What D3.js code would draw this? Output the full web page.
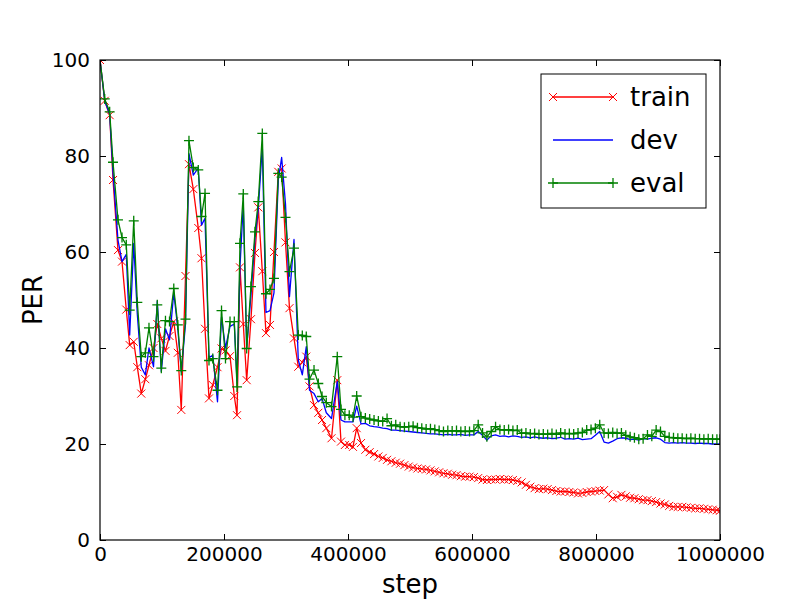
<!DOCTYPE html>
<html><head><meta charset="utf-8">
<script src="https://cdn.jsdelivr.net/npm/d3@7"></script>
<style>body{margin:0;background:#fff}</style>
</head><body><svg id="c" width="800" height="600"></svg>
<script>
// training step, in thousands
const stepK = [0,7.6,15.6,21,29,35.5,42.4,47.9,54.4,60.2,66.6,73.1,79,86.3,92.4,98.9,105.6,112.1,119,125.5,
131.1,137.9,143.5,150.5,158.5,163.7,169.4,175.8,181.9,189.5,196,202.4,209.7,216.6,221,225.8,231.1,236.6,243.5,250,
255.3,261.8,267.7,274.2,280.6,287.6,293,299.2,305.6,312.9,319.8,326.3,332.7,337.9,345.2,352.1,358.1,365,373.4,382.7,
388.7,395,402,408,
414,421,428,435,442,449,456,463,470,477,484,491,498,505,512,519,526,533,540,547,554,561,568,575,582,589,596,603,610,617,
624,631,638,645,652,659,666,673,680,687,694,701,708,715,722,729,736,743,750,757,764,771,778,785,792,799,806,813,820,827,
834,841,848,855,862,869,876,883,890,897,904,911,918,925,932,939,946,953,960,967,974,981,988,995,1000];

const train = [100,91.5,88.5,75,60.4,58,48,40.6,41.3,36,30.5,33.5,36.4,40,45,42,39.4,42.5,45.5,39,
27.1,55,78.3,73.1,65,58.7,44,29.5,32.3,36,39.9,39.5,38.3,30,26,56.8,45,33.3,46,59.8,
69.3,56,43.1,44.8,60,76.7,77.4,62,48.3,42,36.1,37,38.2,32,28.1,26.5,25,23.3,21.2,33.3,
20.5,19.8,19.8,19.4,
23.3,20.2,18.8,18.3,17.9,17.4,17.1,16.7,16.4,16.1,15.9,15.6,15.3,15.1,14.9,14.8,14.7,14.5,14.3,14.1,
13.9,13.8,13.6,13.5,13.3,13.2,13.2,13.1,12.9,12.6,12.5,12.6,12.6,12.7,12.6,12.6,12.5,12.3,12,11.5,
11.1,10.8,10.6,10.7,10.6,10.4,10.2,10.1,10.1,10,9.9,9.7,9.8,10,10.1,10.2,10.3,10.4,9.5,8.7,
9,9.4,9.1,8.8,8.7,8.5,8.3,8.3,8.1,7.9,7.6,7.4,7.1,6.9,6.9,6.9,6.8,6.7,6.6,6.6,
6.5,6.4,6.3,6.2,6.1];

const dev = [100,91.5,88.7,76.5,62.5,58,59.5,42.7,61.8,47,36,34.4,40,36.1,49.8,35.1,44,41.7,51.5,44,
35,45,80.5,76,77.5,65.6,67,38,38.5,28.8,46.5,40,44.5,45,33,57,70,40,51,63,
69,82,47.4,47.8,51.5,75,79.7,70,50.7,62.6,37.5,34.4,40.3,31.2,30.5,28.8,29.5,26.5,25.3,33,
25,24.6,24.6,24.6,
27.9,24.2,24.3,23.8,23.6,23.5,23.3,23.2,22.9,22.9,22.8,22.7,22.6,22.5,22.4,22.3,22.2,22.1,22.1,22,
21.9,22,21.9,21.9,22,21.8,21.9,21.9,22.6,21.8,20.8,21.7,21.9,21.6,21.7,21.5,21.7,21.6,21.4,21.5,
21.3,21.5,21.3,21.2,21.3,21.1,21.2,21.4,21,21.1,21,21.2,20.9,21,21.1,21.8,22.6,20.4,20.2,20.6,
21.1,21.3,21.2,20.9,21,20.8,21.1,21,21.2,21.3,21,20.3,20.2,20.3,20.2,20.3,20.2,20.2,20.1,20.2,
20.1,20.1,20,20,20];

const evalSet = [100,91.9,89.2,78.7,66.7,63,61.5,47.9,66.5,49.5,38.2,39,44.2,38.2,49,35.8,45.7,45.5,52.4,44.8,
35.3,46,83.2,77.6,77.1,67.4,72.2,37.4,37.8,31.2,47.8,37.8,45.5,45.5,31.9,61.8,72.1,39.9,52.8,64.2,
70.5,84.7,51.3,52.2,54.5,76.4,75.6,67.2,55.9,60.8,42.7,42.6,42.4,33.5,35.4,32.6,29.9,28.6,27.8,38.2,
27.2,26,26,25.6,
30,25.7,25.4,25.2,25,24.8,24.7,25.3,23.8,24,23.6,23.5,23.6,23.7,23.4,23.3,23.1,23.2,23,22.8,
22.6,22.8,22.7,22.8,22.6,22.7,22.6,22.8,24,22.3,21.5,22.6,23.6,23,22.9,23,22.8,22.9,22.2,22.3,
22.1,22.2,22,22.1,22,22.2,22,22.3,22.1,22.2,22.1,22.3,22.4,22.9,23,23.3,24,22.3,22.2,22.4,
22.2,22.3,21.8,21.5,21.3,21,21.1,21.9,21.6,22.9,22.6,21.6,21.4,21.3,21.2,21.2,21.1,21.2,21.1,21.1,
21,21.1,21,21,21];

const xTicks = [0,200000,400000,600000,800000,1000000];
const yTicks = [0,20,40,60,80,100];
const seriesNames = ["train","dev","eval"];
const seriesColors = ["#ff0000","#0000ff","#008000"];
const seriesMarkers = ["x","none","+"];
const seriesValues = [train, dev, evalSet];

(function(){
const W = 800, H = 600;
const m = {left:100, right:80, top:60, bottom:60};
const svg = d3.select("#c");
const font = "DejaVu Sans, sans-serif";

const x = d3.scaleLinear().domain([0,1000000]).range([m.left, W-m.right]);
const y = d3.scaleLinear().domain([0,100]).range([H-m.bottom, m.top]);

svg.append("defs").append("clipPath").attr("id","clip")
  .append("rect").attr("x",m.left).attr("y",m.top)
  .attr("width",W-m.left-m.right).attr("height",H-m.top-m.bottom);

const plot = svg.append("g").attr("clip-path","url(#clip)");

const line = d3.line().x((d,i)=>x(stepK[i]*1000)).y(d=>y(d));

function drawMarker(g, type, cx, cy, color){
  const s = 4;
  if(type==="x"){
    g.append("path").attr("d",`M${cx-s},${cy-s}L${cx+s},${cy+s}M${cx-s},${cy+s}L${cx+s},${cy-s}`)
      .attr("stroke",color).attr("stroke-width",1).attr("fill","none");
  } else if(type==="+"){
    const t = 5;
    g.append("path").attr("d",`M${cx-t},${cy}L${cx+t},${cy}M${cx},${cy-t}L${cx},${cy+t}`)
      .attr("stroke",color).attr("stroke-width",1.3).attr("fill","none");
  }
}

seriesValues.forEach((vals, si)=>{
  const g = plot.append("g");
  g.append("path").datum(vals).attr("d",line)
    .attr("fill","none").attr("stroke",seriesColors[si]).attr("stroke-width",1.3)
    .attr("stroke-linejoin","round");
  if(seriesMarkers[si]!=="none"){
    vals.forEach((v,i)=>drawMarker(g, seriesMarkers[si], x(stepK[i]*1000), y(v), seriesColors[si]));
  }
});

const fmt = d3.format("d");
const ax = svg.append("g");
ax.append("g").attr("transform",`translate(0,${H-m.bottom})`)
  .call(d3.axisBottom(x).tickValues(xTicks).tickFormat(fmt).tickSizeInner(-6).tickSizeOuter(0).tickPadding(7));
ax.append("g").attr("transform",`translate(0,${m.top})`)
  .call(d3.axisTop(x).tickValues(xTicks).tickFormat("").tickSizeInner(-6).tickSizeOuter(0));
ax.append("g").attr("transform",`translate(${m.left},0)`)
  .call(d3.axisLeft(y).tickValues(yTicks).tickFormat(fmt).tickSizeInner(-6).tickSizeOuter(0).tickPadding(10));
ax.append("g").attr("transform",`translate(${W-m.right},0)`)
  .call(d3.axisRight(y).tickValues(yTicks).tickFormat("").tickSizeInner(-6).tickSizeOuter(0));
ax.selectAll(".domain").remove();
ax.selectAll(".tick line").attr("stroke","#000").attr("stroke-width",1);
ax.selectAll(".tick text").attr("font-family",font).attr("font-size",20).attr("fill","#000");

svg.append("rect").attr("x",m.left).attr("y",m.top)
  .attr("width",W-m.left-m.right).attr("height",H-m.top-m.bottom)
  .attr("fill","none").attr("stroke","#000").attr("stroke-width",1.2);

svg.append("text").attr("x",(m.left+W-m.right)/2).attr("y",593)
  .attr("text-anchor","middle").attr("font-family",font).attr("font-size",26).text("step");
svg.append("text").attr("transform",`translate(42,${(m.top+H-m.bottom)/2}) rotate(-90)`)
  .attr("text-anchor","middle").attr("font-family",font).attr("font-size",26).text("PER");

const lg = svg.append("g");
lg.append("rect").attr("x",541).attr("y",74).attr("width",165).attr("height",134)
  .attr("fill","#fff").attr("stroke","#000").attr("stroke-width",1);
const legY = [97,140,183];
seriesNames.forEach((name,si)=>{
  const yy = legY[si];
  lg.append("line").attr("x1",553).attr("x2",613).attr("y1",yy).attr("y2",yy)
    .attr("stroke",seriesColors[si]).attr("stroke-width",1.3);
  if(seriesMarkers[si]!=="none"){
    drawMarker(lg, seriesMarkers[si], 553, yy, seriesColors[si]);
    drawMarker(lg, seriesMarkers[si], 613, yy, seriesColors[si]);
  }
  lg.append("text").attr("x",630).attr("y",yy).attr("dy","0.35em")
    .attr("font-family",font).attr("font-size",26).text(name);
});
})();
</script></body></html>
